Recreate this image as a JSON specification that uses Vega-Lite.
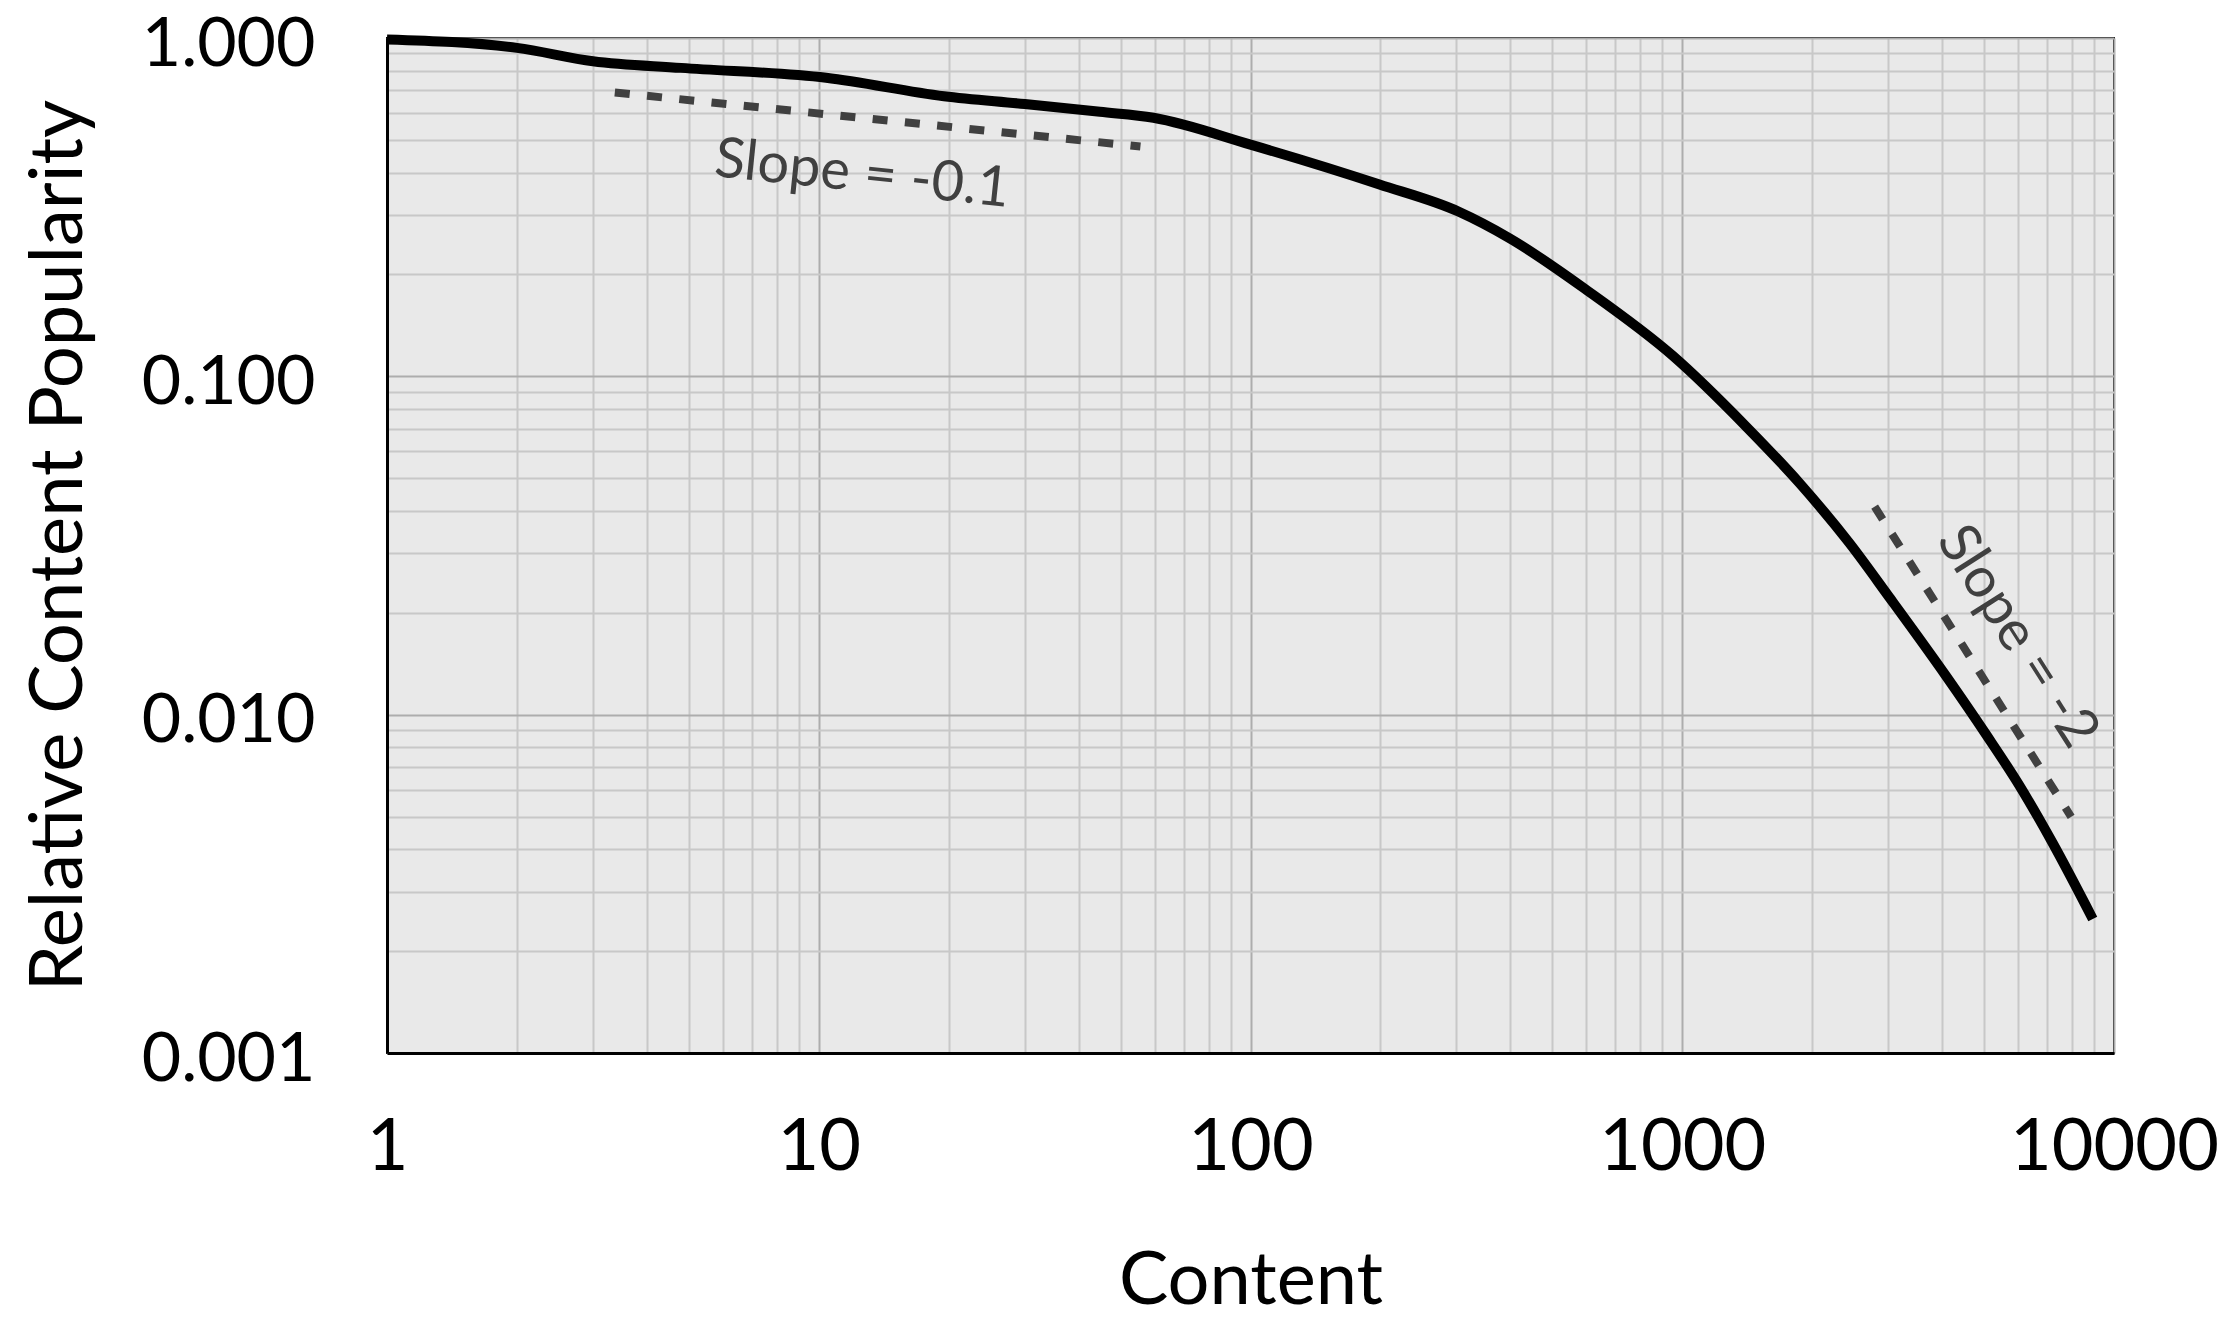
{
  "$schema": "https://vega.github.io/schema/vega-lite/v6.json",
  "autosize": {"type": "none"},
  "padding": {"left": 387, "top": 38, "right": 123, "bottom": 266},
  "width": 1727,
  "height": 1015,
  "background": "white",
  "config": {
    "view": {"stroke": "black", "strokeWidth": 2, "fill": "#e9e9e9"},
    "font": "Lato"
  },
  "encoding": {
    "x": {
      "field": "x", "type": "quantitative",
      "scale": {"type": "log", "domain": [1, 10000], "nice": false},
      "axis": {
        "title": "Content",
        "values": [1,2,3,4,5,6,7,8,9,10,20,30,40,50,60,70,80,90,100,200,300,400,500,600,700,800,900,1000,2000,3000,4000,5000,6000,7000,8000,9000,10000],
        "labelExpr": "indexof([1,10,100,1000,10000], datum.value) >= 0 ? format(datum.value, 'd') : ''",
        "labelFont": "Lato", "labelFontSize": 72, "labelColor": "black", "labelLimit": 0,
        "labelPadding": 59, "labelFlush": false, "labelOverlap": false, "labelBound": false,
        "ticks": false,
        "domainColor": "black", "domainWidth": 3,
        "grid": true,
        "gridColor": {"condition": {"test": "indexof([1,10,100,1000,10000], datum.value) >= 0", "value": "#adadad"}, "value": "#c8c8c8"},
        "gridWidth": 2,
        "titleFont": "Lato", "titleFontSize": 74, "titleFontWeight": "normal", "titleColor": "black", "titleLimit": 0,
        "titleX": 863.5, "titleY": 250, "titleBaseline": "alphabetic", "titleAlign": "center", "titleAnchor": null
      }
    },
    "y": {
      "field": "y", "type": "quantitative",
      "scale": {"type": "log", "domain": [0.001, 1], "nice": false},
      "axis": {
        "title": "Relative Content Popularity",
        "values": [0.001,0.002,0.003,0.004,0.005,0.006,0.007,0.008,0.009,0.01,0.02,0.03,0.04,0.05,0.06,0.07,0.08,0.09,0.1,0.2,0.3,0.4,0.5,0.6,0.7,0.8,0.9,1],
        "labelExpr": "indexof([0.001,0.01,0.1,1], datum.value) >= 0 ? format(datum.value, '.3f') : ''",
        "labelFont": "Lato", "labelFontSize": 68, "labelColor": "black", "labelLimit": 0,
        "labelPadding": 72, "labelOffset": 7, "labelFlush": false, "labelOverlap": false, "labelBound": false,
        "ticks": false,
        "domainColor": "black", "domainWidth": 3,
        "grid": true,
        "gridColor": {"condition": {"test": "indexof([0.001,0.01,0.1,1], datum.value) >= 0", "value": "#adadad"}, "value": "#c8c8c8"},
        "gridWidth": 2,
        "titleFont": "Lato", "titleFontSize": 74, "titleFontWeight": "normal", "titleColor": "black", "titleLimit": 0,
        "titleAngle": 270, "titleX": -290, "titleY": 507, "titleBaseline": "bottom", "titleAlign": "center", "titleAnchor": null
      }
    }
  },
  "layer": [
    {
      "data": {"values": [
        {"seg": "a", "x": 3.37, "y": 0.69},
        {"seg": "a", "x": 55.6, "y": 0.478},
        {"seg": "b", "x": 2790, "y": 0.0412},
        {"seg": "b", "x": 7957, "y": 0.00499}
      ]},
      "mark": {"type": "line", "color": "#404040", "strokeWidth": 8, "strokeDash": [15, 17.4], "strokeCap": "butt"},
      "encoding": {"detail": {"field": "seg"}}
    },
    {
      "data": {"values": [
        {"x": 1, "y": 0.99},
        {"x": 2, "y": 0.935},
        {"x": 3, "y": 0.854},
        {"x": 4.8, "y": 0.816},
        {"x": 10.4, "y": 0.763},
        {"x": 19.5, "y": 0.673},
        {"x": 30, "y": 0.638},
        {"x": 44.8, "y": 0.605},
        {"x": 59.6, "y": 0.581},
        {"x": 100, "y": 0.484},
        {"x": 199, "y": 0.369},
        {"x": 303, "y": 0.307},
        {"x": 398, "y": 0.256},
        {"x": 600, "y": 0.18},
        {"x": 951, "y": 0.115},
        {"x": 1407, "y": 0.071},
        {"x": 1870, "y": 0.0483},
        {"x": 2441, "y": 0.0321},
        {"x": 3020, "y": 0.0222},
        {"x": 4085, "y": 0.013},
        {"x": 5058, "y": 0.00873},
        {"x": 6040, "y": 0.00617},
        {"x": 7220, "y": 0.00416},
        {"x": 8930, "y": 0.00249}
      ]},
      "mark": {"type": "line", "color": "black", "strokeWidth": 10, "strokeCap": "butt", "strokeJoin": "round", "interpolate": "monotone"}
    },
    {
      "data": {"values": [{"x": 12.6, "y": 0.395, "label": "Slope = -0.1"}]},
      "mark": {"type": "text", "font": "Lato", "fontSize": 56, "color": "#404040", "angle": 6, "align": "center", "baseline": "middle"},
      "encoding": {"text": {"field": "label"}}
    },
    {
      "data": {"values": [{"x": 5975, "y": 0.017, "label": "Slope = -2"}]},
      "mark": {"type": "text", "font": "Lato", "fontSize": 56, "color": "#404040", "angle": 57.6, "align": "center", "baseline": "middle"},
      "encoding": {"text": {"field": "label"}}
    }
  ]
}
